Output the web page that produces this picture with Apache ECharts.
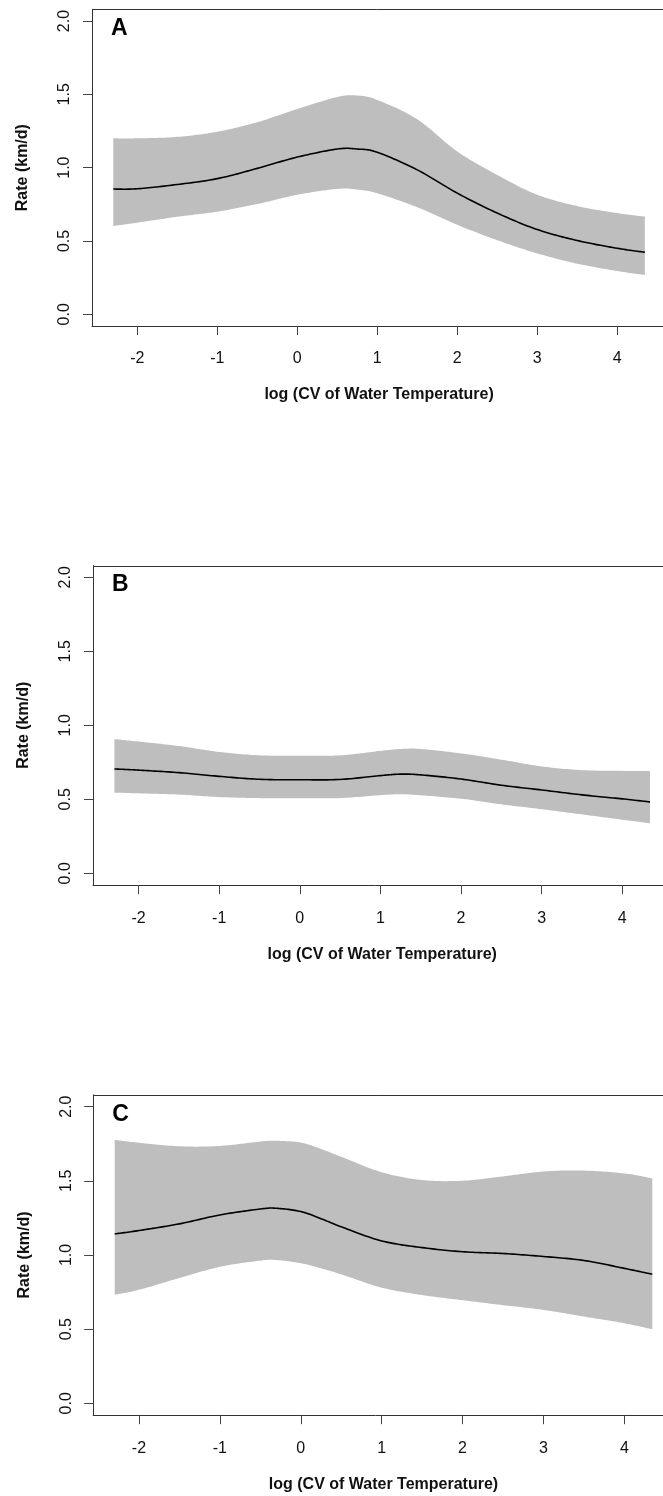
<!DOCTYPE html>
<html>
<head>
<meta charset="utf-8">
<script src="https://cdn.jsdelivr.net/npm/echarts@6/dist/echarts.min.js"></script>
<style>
  html, body { margin: 0; padding: 0; background: #fff; overflow: hidden; }
  #chart { width: 663px; height: 1496px; }
</style>
</head>
<body>
<div id="chart"></div>
<script>
// Tick positions shared by all three panels
const xTicks = [-2, -1, 0, 1, 2, 3, 4];
const yTicks = [0, 0.5, 1.0, 1.5, 2.0];

// Panel A: smooth fit with confidence band
const xA = [-2.3, -2.0, -1.5, -1.0, -0.5, 0.0, 0.5, 0.75, 1.0, 1.5, 2.0, 2.5, 3.0, 3.5, 4.0, 4.345];
const fitA = [0.854, 0.856, 0.885, 0.925, 0.995, 1.072, 1.127, 1.127, 1.105, 0.985, 0.826, 0.690, 0.578, 0.503, 0.450, 0.423];
const upperA = [1.200, 1.200, 1.210, 1.245, 1.310, 1.400, 1.482, 1.492, 1.462, 1.330, 1.110, 0.950, 0.815, 0.738, 0.690, 0.666];
const lowerA = [0.602, 0.625, 0.665, 0.700, 0.752, 0.815, 0.855, 0.850, 0.825, 0.730, 0.610, 0.505, 0.415, 0.345, 0.295, 0.268];

// Panel B
const xB = [-2.3, -2.0, -1.5, -1.0, -0.5, 0.0, 0.5, 1.0, 1.25, 1.5, 2.0, 2.5, 3.0, 3.5, 4.0, 4.345];
const fitB = [0.705, 0.697, 0.680, 0.655, 0.635, 0.632, 0.634, 0.660, 0.670, 0.665, 0.637, 0.595, 0.563, 0.530, 0.503, 0.482];
const upperB = [0.907, 0.890, 0.860, 0.820, 0.797, 0.795, 0.797, 0.827, 0.840, 0.840, 0.810, 0.768, 0.722, 0.697, 0.692, 0.691];
const lowerB = [0.545, 0.540, 0.532, 0.515, 0.508, 0.507, 0.508, 0.528, 0.534, 0.527, 0.504, 0.466, 0.433, 0.398, 0.362, 0.338];

// Panel C
const xC = [-2.3, -2.0, -1.5, -1.0, -0.5, -0.3, 0.0, 0.25, 0.5, 1.0, 1.5, 2.0, 2.5, 3.0, 3.5, 4.0, 4.345];
const fitC = [1.142, 1.165, 1.210, 1.270, 1.310, 1.315, 1.293, 1.245, 1.190, 1.095, 1.050, 1.022, 1.010, 0.990, 0.963, 0.910, 0.870];
const upperC = [1.776, 1.757, 1.733, 1.735, 1.765, 1.770, 1.758, 1.715, 1.662, 1.558, 1.505, 1.501, 1.530, 1.563, 1.569, 1.550, 1.517];
const lowerC = [0.732, 0.765, 0.845, 0.920, 0.962, 0.966, 0.945, 0.910, 0.870, 0.780, 0.730, 0.695, 0.662, 0.630, 0.585, 0.540, 0.499];

const panelLabels = ['A', 'B', 'C'];
const xTitle = 'log (CV of Water Temperature)';
const yTitle = 'Rate (km/d)';

const CANVAS_W = 663;
const PLOT_RIGHT = 658;   // plotting area stops just short of the canvas edge

// pxPerUnit fixes the horizontal scale of each panel
const panels = [
  { x: xA, fit: fitA, upper: upperA, lower: lowerA, pxPerUnit: 80.0, grid: { left: 92.0, top: 9.3, height: 316.7 } },
  { x: xB, fit: fitB, upper: upperB, lower: lowerB, pxPerUnit: 80.6, grid: { left: 93.0, top: 565.5, height: 319.6 } },
  { x: xC, fit: fitC, upper: upperC, lower: lowerC, pxPerUnit: 80.9, grid: { left: 93.2, top: 1094.8, height: 320.4 } }
];

// Axis ranges padded by 4% on each side, like base R plots
const xMin = -2.3, xMax = 4.345;
const xPad = (xMax - xMin) * 0.04;
const yPad = 2.0 * 0.04;

const FONT = "'Liberation Sans', Arial, sans-serif";
const FRAME = { show: true, onZero: false, lineStyle: { color: '#333', width: 1 } };

// Smooth open curve through pixel points (Catmull-Rom as cubic Beziers), sampled for drawing
function smoothCurve(pts) {
  const out = [];
  const n = pts.length;
  const STEPS = 16;
  for (let i = 0; i < n - 1; i++) {
    const p0 = pts[Math.max(i - 1, 0)], p1 = pts[i], p2 = pts[i + 1], p3 = pts[Math.min(i + 2, n - 1)];
    const c1 = [p1[0] + (p2[0] - p0[0]) / 6, p1[1] + (p2[1] - p0[1]) / 6];
    const c2 = [p2[0] - (p3[0] - p1[0]) / 6, p2[1] - (p3[1] - p1[1]) / 6];
    for (let s = (i === 0 ? 0 : 1); s <= STEPS; s++) {
      const t = s / STEPS, u = 1 - t;
      out.push([
        u * u * u * p1[0] + 3 * u * u * t * c1[0] + 3 * u * t * t * c2[0] + t * t * t * p2[0],
        u * u * u * p1[1] + 3 * u * u * t * c1[1] + 3 * u * t * t * c2[1] + t * t * t * p2[1]
      ]);
    }
  }
  return out;
}

function bandRenderer(p) {
  return function (params, api) {
    if (params.dataIndex !== 0) return null;
    const up = smoothCurve(p.x.map((x, k) => api.coord([x, p.upper[k]])));
    const lo = smoothCurve(p.x.map((x, k) => api.coord([x, p.lower[k]])));
    return { type: 'polygon', shape: { points: up.concat(lo.reverse()) }, style: { fill: '#bebebe', stroke: null }, silent: true };
  };
}

function fitRenderer(p) {
  return function (params, api) {
    if (params.dataIndex !== 0) return null;
    const pts = smoothCurve(p.x.map((x, k) => api.coord([x, p.fit[k]])));
    return { type: 'polyline', shape: { points: pts }, style: { fill: null, stroke: '#000', lineWidth: 1.6, lineJoin: 'round' }, silent: true };
  };
}

const grids = [], xAxes = [], yAxes = [], series = [], graphics = [];

panels.forEach((p, i) => {
  const width = PLOT_RIGHT - p.grid.left;
  const axisMin = xMin - xPad;
  const axisMax = axisMin + width / p.pxPerUnit;
  grids.push(Object.assign({ show: false, containLabel: false, outerBoundsMode: 'none', width: width }, p.grid));
  xAxes.push({
    type: 'value', gridIndex: i, position: 'bottom', min: axisMin, max: axisMax,
    axisLine: FRAME,
    splitLine: { show: false },
    axisTick: { show: true, length: 9, lineStyle: { color: '#444', width: 1 }, customValues: xTicks },
    axisLabel: { show: true, margin: 25, fontSize: 16, color: '#111', fontFamily: FONT, customValues: xTicks,
                 formatter: v => String(Math.round(v)) }
  });
  yAxes.push({
    type: 'value', gridIndex: i, position: 'left', min: -yPad, max: 2.0 + yPad,
    axisLine: FRAME,
    splitLine: { show: false },
    axisTick: { show: true, length: 9, lineStyle: { color: '#444', width: 1 }, customValues: yTicks },
    axisLabel: { show: true, rotate: 90, margin: 19, fontSize: 16, color: '#111', fontFamily: FONT, customValues: yTicks,
                 formatter: v => v.toFixed(1) },
    name: yTitle, nameLocation: 'middle', nameRotate: 90, nameGap: 61,
    nameTextStyle: { fontSize: 16, fontWeight: 'bold', color: '#111', fontFamily: FONT }
  });

  // x-axis title centred on the full plot frame (which extends past the canvas edge)
  const frameRight = p.grid.left + (xMax + xPad - axisMin) * p.pxPerUnit;
  graphics.push({
    type: 'text', x: (p.grid.left + frameRight) / 2, y: p.grid.top + p.grid.height + 61,
    style: { text: xTitle, font: "bold 16px " + FONT, fill: '#111', align: 'center', verticalAlign: 'top' }
  });

  series.push({ type: 'custom', xAxisIndex: i, yAxisIndex: i, z: 1, renderItem: bandRenderer(p),
    data: p.x.map((x, k) => [x, p.lower[k], p.upper[k]]), encode: { x: 0, y: [1, 2] } });
  series.push({ type: 'custom', xAxisIndex: i, yAxisIndex: i, z: 2, renderItem: fitRenderer(p),
    data: p.x.map((x, k) => [x, p.fit[k]]), encode: { x: 0, y: 1 } });

  // Top edge of the plot frame, and the bottom edge carried on to the canvas border
  const yTop = Math.round(p.grid.top) + 0.5;
  const yBot = Math.round(p.grid.top + p.grid.height) + 0.5;
  graphics.push({ type: 'line', silent: true,
    shape: { x1: p.grid.left, y1: yTop, x2: CANVAS_W, y2: yTop },
    style: { stroke: '#333', lineWidth: 1 } });
  graphics.push({ type: 'line', silent: true,
    shape: { x1: PLOT_RIGHT - 1, y1: yBot, x2: CANVAS_W, y2: yBot },
    style: { stroke: '#333', lineWidth: 1 } });

  graphics.push({ type: 'text', left: p.grid.left + 19, top: p.grid.top + 8,
    style: { text: panelLabels[i], font: "bold 23px " + FONT, fill: '#000' } });
});

const chart = echarts.init(document.getElementById('chart'), null, { renderer: 'canvas', width: CANVAS_W, height: 1496 });
chart.setOption({
  animation: false,
  backgroundColor: '#fff',
  grid: grids,
  xAxis: xAxes,
  yAxis: yAxes,
  series: series,
  graphic: graphics
});
</script>
</body>
</html>
